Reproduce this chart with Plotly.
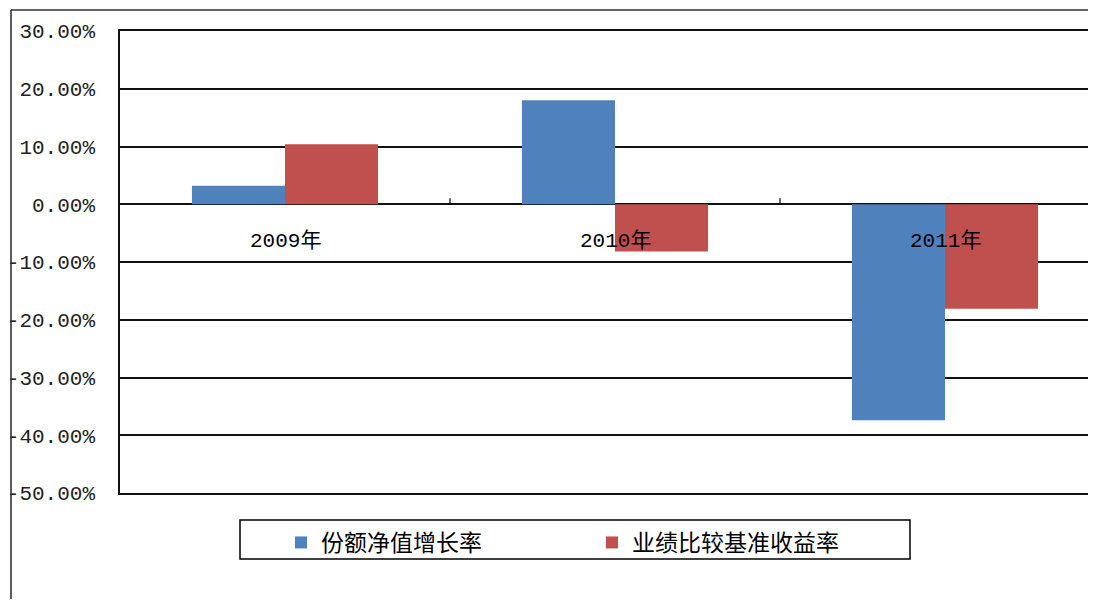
import plotly.graph_objects as go

categories = ["2009年", "2010年", "2011年"]
series_names = ["份额净值增长率", "业绩比较基准收益率"]
nav_growth = [3.2, 18.0, -37.4]
benchmark = [10.4, -8.2, -18.1]
tick_vals = [30, 20, 10, 0, -10, -20, -30, -40, -50]
tick_text = ["30.00%", "20.00%", "10.00%", "0.00%", "-10.00%", "-20.00%",
             "-30.00%", "-40.00%", "-50.00%"]

colors = ["#4F81BD", "#C0504D"]
OFF = 8  # page body margin
FW, FH = 1096 - 2 * OFF, 607 - 2 * OFF
PL, PT, PB = 120, 31, 493  # plot area in screen pixels
L, T = PL - OFF, PT - OFF
B = FH - (PB - OFF)
R = 0
pw, ph = FW - L - R, FH - T - B

def px2x(px):
    return (px - PL) / pw

def px2y(py):
    return (PB - py) / ph

xs = list(range(len(categories)))
fig = go.Figure()
fig.add_trace(go.Bar(x=xs, y=nav_growth, name=series_names[0],
                     marker=dict(color=colors[0], line=dict(width=0))))
fig.add_trace(go.Bar(x=xs, y=benchmark, name=series_names[1],
                     marker=dict(color=colors[1], line=dict(width=0))))

mono = "Liberation Mono, Noto Sans CJK SC"
cjk = "Noto Sans CJK SC, Liberation Mono"

annotations = []
for i, c in enumerate(categories):
    annotations.append(dict(x=i, y=0, xref="x", yref="y", text=c, showarrow=False,
                            yshift=-37, font=dict(family=mono, size=21, color="#000")))

shapes = []
for i in range(len(categories) - 1):
    shapes.append(dict(type="line", xref="x", yref="y", x0=i + 0.5, x1=i + 0.5,
                       ysizemode="pixel", yanchor=0, y0=0, y1=6,
                       line=dict(color="#000", width=1.2)))
shapes.append(dict(type="line", xref="paper", yref="paper", x0=px2x(11), x1=px2x(11),
                   y0=px2y(10), y1=px2y(620), line=dict(color="#333", width=1.6)))
shapes.append(dict(type="line", xref="paper", yref="paper", x0=px2x(11), x1=px2x(1120),
                   y0=px2y(10), y1=px2y(10), line=dict(color="#333", width=1.6)))
shapes.append(dict(type="rect", xref="paper", yref="paper", x0=px2x(240), x1=px2x(910),
                   y0=px2y(520), y1=px2y(559), line=dict(color="#000", width=1.5),
                   fillcolor="rgba(0,0,0,0)"))

fig.update_layout(
    width=FW, height=FH,
    margin=dict(l=L, r=R, t=T, b=B, pad=0),
    paper_bgcolor="white", plot_bgcolor="white",
    barmode="group", bargap=0.436, bargroupgap=0,
    showlegend=True,
    legend=dict(orientation="h", x=px2x(281), y=px2y(521), xanchor="left", yanchor="top",
                font=dict(family=cjk, size=23, color="#000"),
                bgcolor="rgba(0,0,0,0)", borderwidth=0,
                entrywidth=266, entrywidthmode="pixels", traceorder="normal"),
    xaxis=dict(range=[-0.5, -0.5 + pw / 330.0], showticklabels=False, showgrid=False,
               zeroline=False, showline=True, mirror=True, linecolor="#111", linewidth=1.6,
               ticks="", fixedrange=True, automargin=False),
    yaxis=dict(range=[-50, 30], tickvals=tick_vals, ticktext=tick_text,
               showgrid=True, gridcolor="#111", gridwidth=1.6,
               zeroline=True, zerolinecolor="#111", zerolinewidth=1.6,
               showline=True, linecolor="#111", linewidth=1.6,
               ticks="", ticklabelstandoff=19, automargin=False,
               tickfont=dict(family=mono, size=21, color="#222")),
    annotations=annotations, shapes=shapes,
)

fig.write_html("out.html")
